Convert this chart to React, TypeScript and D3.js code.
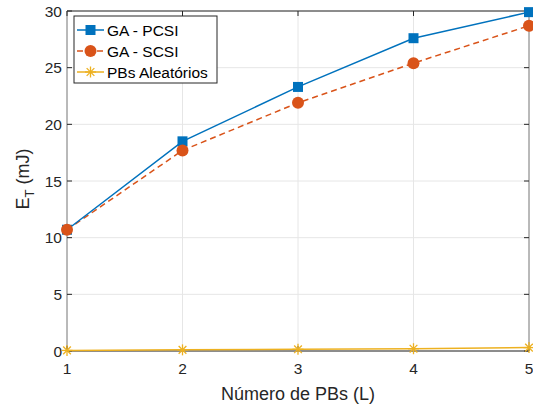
import React from 'react';
import * as d3 from 'd3';

const xValues = [1, 2, 3, 4, 5];
const gaPcsi = [10.7, 18.5, 23.3, 27.6, 29.9];
const gaScsi = [10.7, 17.7, 21.9, 25.4, 28.7];
const pbsRandom = [0.05, 0.1, 0.15, 0.2, 0.3];
const yTicks = [0, 5, 10, 15, 20, 25, 30];
const seriesNames = ['GA - PCSI', 'GA - SCSI', 'PBs Aleatórios'];
const colors = ['#0072BD', '#D95319', '#EDB120'];

const margin = { left: 67, right: 4, top: 11, bottom: 56 };
const W = 533;
const H = 407;
const font = '"Liberation Sans", Arial, sans-serif';

function Star({ x, y, c }: { x: number; y: number; c: string }) {
  const r = 5.5;
  const d = r * 0.7;
  return (
    <g stroke={c} strokeWidth={1.3}>
      <line x1={x - r} y1={y} x2={x + r} y2={y} />
      <line x1={x} y1={y - r} x2={x} y2={y + r} />
      <line x1={x - d} y1={y - d} x2={x + d} y2={y + d} />
      <line x1={x - d} y1={y + d} x2={x + d} y2={y - d} />
    </g>
  );
}

export default function App() {
  const x = d3.scaleLinear().domain([1, 5]).range([margin.left, W - margin.right]);
  const y = d3.scaleLinear().domain([0, 30]).range([H - margin.bottom, margin.top]);
  const line = d3
    .line<number>()
    .x((_, i) => x(xValues[i]))
    .y((d) => y(d));

  const x0 = x(1), x1 = x(5), y0 = y(0), y1 = y(30);

  return (
    <svg width={W} height={H} style={{ position: 'absolute', left: 0, top: 0 }} fontFamily={font}>
      <rect x={0} y={0} width={W} height={H} fill="#fff" />
      {/* grid */}
      {xValues.map((v) => (
        <line key={'gx' + v} x1={x(v)} x2={x(v)} y1={y0} y2={y1} stroke="#e6e6e6" />
      ))}
      {yTicks.map((v) => (
        <line key={'gy' + v} x1={x0} x2={x1} y1={y(v)} y2={y(v)} stroke="#e6e6e6" />
      ))}
      {/* box */}
      <line x1={x0} x2={x1} y1={y1} y2={y1} stroke="#262626" />
      <line x1={x0} x2={x1} y1={y0} y2={y0} stroke="#262626" />
      <line x1={x0} x2={x0} y1={y0} y2={y1} stroke="#808080" />
      <line x1={x1} x2={x1} y1={y0} y2={y1} stroke="#808080" />
      {/* ticks */}
      {xValues.map((v) => (
        <g key={'tx' + v}>
          <line x1={x(v)} x2={x(v)} y1={y0} y2={y0 - 5} stroke="#262626" />
          <line x1={x(v)} x2={x(v)} y1={y1} y2={y1 + 5} stroke="#262626" />
          <text x={x(v)} y={y0 + 23} textAnchor="middle" fontSize={15.5} fill="#262626">
            {v}
          </text>
        </g>
      ))}
      {yTicks.map((v) => (
        <g key={'ty' + v}>
          <line x1={x0} x2={x0 + 5} y1={y(v)} y2={y(v)} stroke="#262626" />
          <line x1={x1} x2={x1 - 5} y1={y(v)} y2={y(v)} stroke="#262626" />
          <text x={x0 - 5} y={y(v) + 5.5} textAnchor="end" fontSize={15.5} fill="#262626">
            {v}
          </text>
        </g>
      ))}
      {/* axis labels */}
      <text x={(x0 + x1) / 2} y={400} textAnchor="middle" fontSize={18} fill="#262626">
        Número de PBs (L)
      </text>
      <text transform={`translate(29,${(y0 + y1) / 2 - 2}) rotate(-90)`} textAnchor="middle" fontSize={18} fill="#262626">
        E<tspan fontSize={13} dy={5}>T</tspan>
        <tspan dy={-5}> (mJ)</tspan>
      </text>
      {/* series */}
      <path d={line(pbsRandom) || ''} fill="none" stroke={colors[2]} strokeWidth={1.5} />
      <path d={line(gaScsi) || ''} fill="none" stroke={colors[1]} strokeWidth={1.5} strokeDasharray="6,4" />
      <path d={line(gaPcsi) || ''} fill="none" stroke={colors[0]} strokeWidth={1.5} />
      {gaPcsi.map((v, i) => (
        <rect key={'p' + i} x={x(xValues[i]) - 5} y={y(v) - 5} width={10} height={10} fill={colors[0]} />
      ))}
      {gaScsi.map((v, i) => (
        <circle key={'s' + i} cx={x(xValues[i])} cy={y(v)} r={6} fill={colors[1]} />
      ))}
      {pbsRandom.map((v, i) => (
        <Star key={'r' + i} x={x(xValues[i])} y={y(v)} c={colors[2]} />
      ))}
      {/* legend */}
      <g>
        <rect x={74} y={16} width={143} height={67} fill="#fff" stroke="#262626" />
        {seriesNames.map((n, i) => {
          const ly = 30 + i * 21;
          return (
            <g key={n}>
              <line x1={77} x2={104} y1={ly} y2={ly} stroke={colors[i]} strokeWidth={1.5} strokeDasharray={i === 1 ? '6,4' : undefined} />
              {i === 0 && <rect x={85.5} y={ly - 5} width={10} height={10} fill={colors[0]} />}
              {i === 1 && <circle cx={90.5} cy={ly} r={6} fill={colors[1]} />}
              {i === 2 && <Star x={90.5} y={ly} c={colors[2]} />}
              <text x={107} y={ly + 5.5} fontSize={15.5} fill="#000">
                {n}
              </text>
            </g>
          );
        })}
      </g>
    </svg>
  );
}
